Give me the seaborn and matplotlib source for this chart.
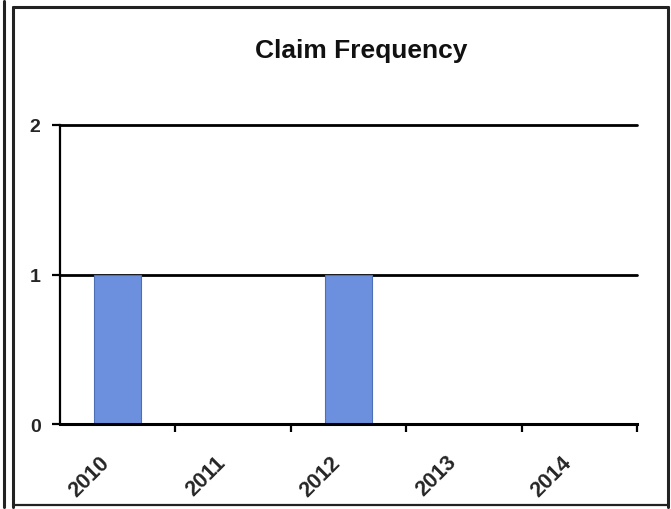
import matplotlib
matplotlib.use("Agg")
import matplotlib.pyplot as plt
import matplotlib.transforms as mtransforms
from matplotlib.lines import Line2D
import seaborn as sns
import pandas as pd

years = ["2010", "2011", "2012", "2013", "2014"]
claims = [1, 0, 1, 0, 0]
y_ticks = [0, 1, 2]

sns.set_theme(style="white")
plt.rcParams["font.family"] = ["Liberation Sans", "DejaVu Sans"]

W, H = 671, 510
fig = plt.figure(figsize=(W / 100, H / 100), dpi=100)
fig.patch.set_facecolor("white")

x0, x1 = 60, 637
ytop, ybot = 126, 425
ax = fig.add_axes([x0 / W, 1 - ybot / H, (x1 - x0) / W, (ybot - ytop) / H])

df = pd.DataFrame({"year": years, "claims": claims})
sns.barplot(data=df, x="year", y="claims", ax=ax, color="#6d90de",
            width=0.41, edgecolor="#4d6fb8", linewidth=0.8, saturation=1,
            zorder=3)

ax.set_xlim(-0.5, len(years) - 0.5)
ax.set_ylim(0, 2)
ax.set_yticks(y_ticks)
ax.set_yticklabels([str(t) for t in y_ticks], fontsize=14, fontweight="bold")
ax.set_xlabel("")
ax.set_ylabel("")

# horizontal gridlines at the non-zero ticks
for t in y_ticks[1:]:
    ax.axhline(t, color="black", lw=2, zorder=1, clip_on=False)

for s in ("top", "right"):
    ax.spines[s].set_visible(False)
ax.spines["left"].set_color("black")
ax.spines["left"].set_linewidth(1.6)
ax.spines["bottom"].set_color("black")
ax.spines["bottom"].set_linewidth(2.2)
ax.spines["bottom"].set_zorder(4)

# tick marks at category boundaries, labels at category centres
ax.set_xticks([i + 0.5 for i in range(len(years))], minor=True)
ax.tick_params(axis="x", which="minor", length=6, width=1.6, color="black",
               direction="out", bottom=True)
ax.tick_params(axis="x", which="major", length=0, pad=25)
ax.tick_params(axis="y", which="major", length=6, width=1.6, color="black",
               direction="out", left=True, pad=8)
ax.set_xticks(range(len(years)))
ax.set_xticklabels(years, rotation=45, ha="right", va="center",
                   rotation_mode="anchor", fontsize=15.5, fontweight="bold")
offset = mtransforms.ScaledTranslation(-11 / 100, 0, fig.dpi_scale_trans)
for lab in ax.get_xticklabels():
    lab.set_transform(lab.get_transform() + offset)

fig.text(361 / W, 1 - 51 / H, "Claim Frequency", ha="center", va="center",
         fontsize=19, fontweight="bold", color="#111111")

# frame around the chart
def fline(xs, ys, lw):
    fig.add_artist(Line2D([x / W for x in xs], [1 - y / H for y in ys],
                          color="#222222", lw=lw, transform=fig.transFigure))

fline([4, 4], [2, 508], 2.2)
fline([13, 13], [8, 508], 2.2)
fline([13, 668], [8, 8], 2.2)
fline([668, 668], [8, 508], 2.2)
fline([13, 668], [506, 506], 1.6)

fig.savefig("out.png", dpi=100, facecolor="white")
